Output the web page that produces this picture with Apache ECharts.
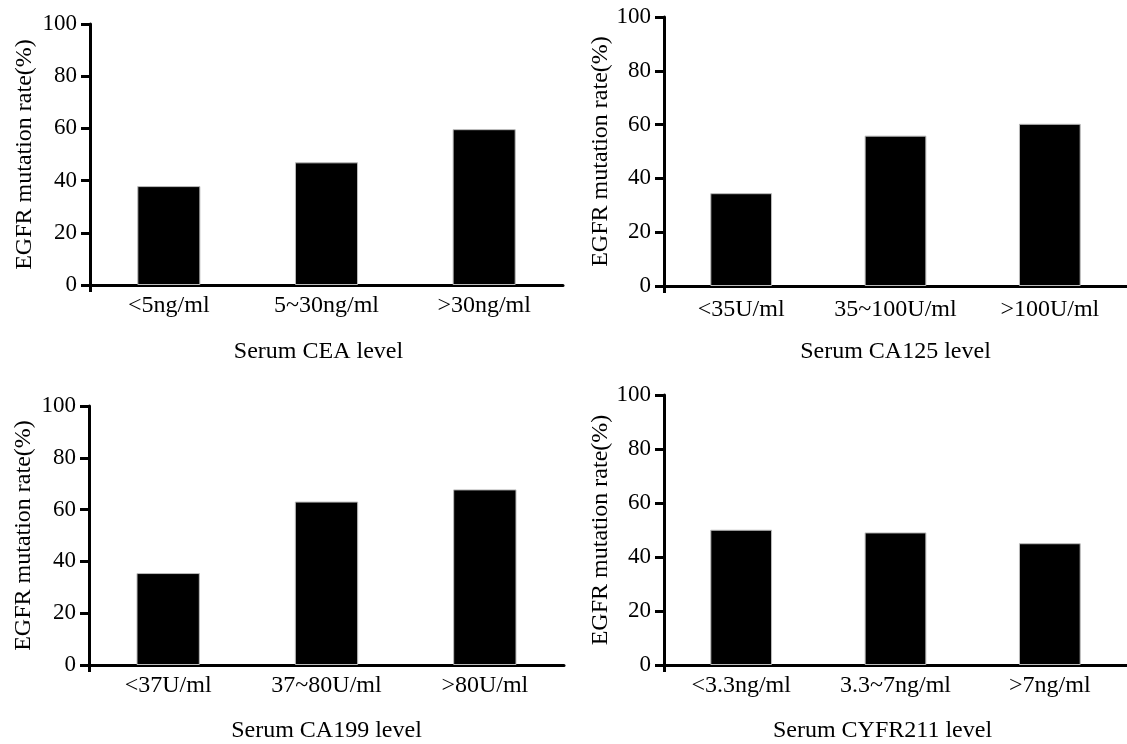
<!DOCTYPE html>
<html>
<head>
<meta charset="utf-8">
<script src="https://cdn.jsdelivr.net/npm/echarts@6/dist/echarts.min.js"></script>
<style>
  html, body { margin: 0; padding: 0; background: #fff; }
  #chart { width: 1127px; height: 744px; }
</style>
</head>
<body>
<div id="chart"></div>
<script>
// 数据：四个血清标志物分组的 EGFR 突变率 (%)
const ceaCategories = ['<5ng/ml', '5~30ng/ml', '>30ng/ml'];
const ceaRates = [37.9, 47.0, 59.7];

const ca125Categories = ['<35U/ml', '35~100U/ml', '>100U/ml'];
const ca125Rates = [34.5, 55.9, 60.3];

const ca199Categories = ['<37U/ml', '37~80U/ml', '>80U/ml'];
const ca199Rates = [35.5, 63.1, 67.8];

const cyfraCategories = ['<3.3ng/ml', '3.3~7ng/ml', '>7ng/ml'];
const cyfraRates = [50.1, 49.1, 45.1];

const panelTitles = ['Serum CEA level', 'Serum CA125 level', 'Serum CA199 level', 'Serum CYFR211 level'];
const yAxisTitle = 'EGFR mutation rate(%)';
const yMin = 0;
const yMax = 100;
const yStep = 20;

const FONT = '"Liberation Serif", "Times New Roman", serif';

// 每个面板的位置（像素）
const panels = [
  { cats: ceaCategories, values: ceaRates, grid: { left: 90, top: 24, width: 473, height: 261 }, yGap: 53, xGap: 55, labelMargin: 9, namePad: [0, 16, 0, 0] },
  { cats: ca125Categories, values: ca125Rates, grid: { left: 664, top: 17, width: 463, height: 269 }, yGap: 49, xGap: 54, labelMargin: 12, namePad: [0, 0, 0, 0] },
  { cats: ca199Categories, values: ca199Rates, grid: { left: 89, top: 406, width: 475, height: 260 }, yGap: 53, xGap: 54, labelMargin: 9, namePad: [0, 0, 0, 0] },
  { cats: cyfraCategories, values: cyfraRates, grid: { left: 664, top: 395, width: 480, height: 273 }, yGap: 48, xGap: 54, labelMargin: 9, namePad: [0, 26, 0, 0] }
];

const axisLineStyle = { color: '#000', width: 3 };

// 分类轴：轴线 + 标签 + 轴名
const categoryAxes = panels.map((p, i) => ({
  type: 'category',
  gridIndex: i,
  data: p.cats,
  name: panelTitles[i],
  nameLocation: 'middle',
  nameGap: p.xGap,
  nameTextStyle: { fontFamily: FONT, fontSize: 24, color: '#000', padding: p.namePad },
  axisLine: { lineStyle: axisLineStyle },
  axisTick: { show: false },
  axisLabel: { fontFamily: FONT, fontSize: 24, color: '#000', margin: p.labelMargin, interval: 0 },
  splitLine: { show: false }
}));

// 辅助轴：只在原点画一个向下的短刻度
const originTickAxes = panels.map((p, i) => ({
  type: 'value',
  gridIndex: i,
  position: 'bottom',
  min: 0,
  max: 1,
  axisLine: { show: false },
  axisLabel: { show: false },
  axisTick: { show: true, length: 7, customValues: [0], lineStyle: axisLineStyle },
  splitLine: { show: false }
}));

const option = {
  backgroundColor: '#fff',
  animation: false,
  grid: panels.map(p => Object.assign({ containLabel: false }, p.grid)),
  xAxis: categoryAxes.concat(originTickAxes),
  yAxis: panels.map((p, i) => ({
    type: 'value',
    gridIndex: i,
    min: yMin,
    max: yMax,
    interval: yStep,
    name: yAxisTitle,
    nameLocation: 'middle',
    nameRotate: 90,
    nameGap: p.yGap,
    nameTextStyle: { fontFamily: FONT, fontSize: 24, color: '#000' },
    axisLine: { show: true, lineStyle: axisLineStyle },
    axisTick: { show: true, length: 9, lineStyle: axisLineStyle },
    axisLabel: { fontFamily: FONT, fontSize: 23, color: '#000', margin: 13 },
    splitLine: { show: false }
  })),
  series: panels.map((p, i) => ({
    type: 'bar',
    xAxisIndex: i,
    yAxisIndex: i,
    data: p.values,
    barWidth: '40%',
    itemStyle: { color: '#000', borderColor: '#bbb', borderWidth: 1 }
  }))
};

const chart = echarts.init(document.getElementById('chart'), null, { renderer: 'canvas' });
chart.setOption(option);
</script>
</body>
</html>
